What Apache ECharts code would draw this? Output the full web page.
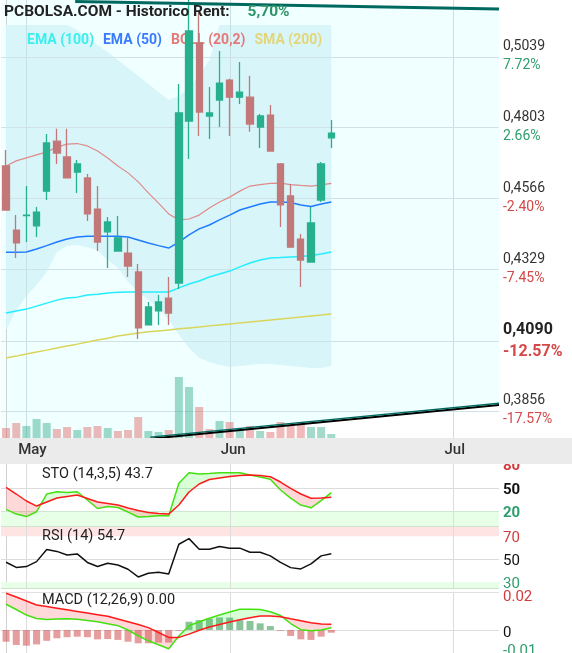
<!DOCTYPE html>
<html>
<head>
<meta charset="utf-8">
<script src="https://cdn.jsdelivr.net/npm/echarts@6/dist/echarts.min.js"></script>
<style>
html,body{margin:0;padding:0;background:#fff;}
#chart{width:572px;height:653px;}
</style>
</head>
<body>
<div id="chart"></div>
<script>
// ---------- categories ----------
const dates = ['2020-04-29','2020-04-30',
'2020-05-04','2020-05-05','2020-05-06','2020-05-07','2020-05-08',
'2020-05-11','2020-05-12','2020-05-13','2020-05-14','2020-05-15',
'2020-05-18','2020-05-19','2020-05-20','2020-05-21','2020-05-22',
'2020-05-25','2020-05-26','2020-05-27','2020-05-28','2020-05-29',
'2020-06-01','2020-06-02','2020-06-03','2020-06-04','2020-06-05',
'2020-06-08','2020-06-09','2020-06-10','2020-06-11','2020-06-12',
'2020-06-15','2020-06-16','2020-06-17','2020-06-18','2020-06-19',
'2020-06-22','2020-06-23','2020-06-24','2020-06-25','2020-06-26',
'2020-06-29','2020-06-30',
'2020-07-01','2020-07-02','2020-07-03','2020-07-06','2020-07-07'];
const monthStarts = [2, 22, 44];
const monthNames = ['May', 'Jun', 'Jul'];

// ---------- price ----------
const candleOpen  = [0.4674,0.4460,0.4508,0.4474,0.4590,0.4757,0.4704,0.4654,0.4634,0.4530,0.4454,0.4390,0.4383,0.4320,0.4143,0.4190,0.4233,0.4283,0.4824,0.5085,0.4841,0.4894,0.4961,0.4904,0.4904,0.4804,0.4844,0.4681,0.4574,0.4430,0.4353,0.4560,0.4768];
const candleClose = [0.4527,0.4417,0.4510,0.4520,0.4751,0.4717,0.4634,0.4681,0.4514,0.4420,0.4487,0.4434,0.4340,0.4133,0.4203,0.4220,0.4183,0.4851,0.5125,0.4854,0.4851,0.4951,0.4904,0.4921,0.4814,0.4841,0.4724,0.4544,0.4403,0.4360,0.4484,0.4681,0.4784];
const candleLow   = [0.4527,0.4367,0.4420,0.4437,0.4560,0.4681,0.4634,0.4584,0.4490,0.4390,0.4333,0.4390,0.4303,0.4096,0.4143,0.4143,0.4143,0.4263,0.4697,0.4774,0.4764,0.4804,0.4774,0.4881,0.4788,0.4734,0.4724,0.4470,0.4403,0.4270,0.4353,0.4554,0.4734];
const candleHigh  = [0.4727,0.4510,0.4607,0.4537,0.4781,0.4798,0.4798,0.4694,0.4647,0.4607,0.4504,0.4507,0.4434,0.4347,0.4220,0.4243,0.4303,0.4948,0.5240,0.5185,0.4938,0.5058,0.4965,0.5021,0.4975,0.4848,0.4878,0.4684,0.4614,0.4447,0.4537,0.4687,0.4828];

const volume    = [10,15,12,19,15,9,11,8,11,12,10,7,8,21,7,6,8,61,51,31,9,17,16,9,12,7,6,16,12,16,11,11,4];
const volumeDir = ['d','d','u','u','u','d','d','u','d','d','u','d','d','d','u','u','d','u','u','d','d','u','d','u','d','u','d','d','d','d','u','u','u'];

// ---------- overlays ----------
const bollUpper = [0.5145,0.5145,0.5145,0.5145,0.5145,0.5145,0.5145,0.5128,0.5101,0.5078,0.5055,0.5028,0.5001,0.4975,0.4948,0.4921,0.4894,0.4908,0.4934,0.4978,0.5028,0.5145,0.5145,0.5145,0.5145,0.5145,0.5145,0.5145,0.5145,0.5145,0.5145,0.5145,0.5145];
const bollMid   = [0.4674,0.4691,0.4701,0.4711,0.4721,0.4737,0.4747,0.4749,0.4741,0.4724,0.4701,0.4674,0.4651,0.4621,0.4584,0.4550,0.4514,0.4494,0.4497,0.4510,0.4534,0.4554,0.4570,0.4590,0.4607,0.4612,0.4616,0.4617,0.4612,0.4609,0.4607,0.4611,0.4616];
const bollLower = [0.4126,0.4193,0.4240,0.4277,0.4320,0.4387,0.4407,0.4410,0.4403,0.4393,0.4360,0.4333,0.4287,0.4253,0.4226,0.4200,0.4160,0.4110,0.4066,0.4033,0.4019,0.4009,0.4003,0.4006,0.4009,0.4013,0.4013,0.4009,0.4006,0.4003,0.3999,0.3999,0.4006];
const ema50  = [0.4386,0.4386,0.4387,0.4397,0.4408,0.4420,0.4430,0.4437,0.4439,0.4439,0.4439,0.4439,0.4437,0.4427,0.4417,0.4408,0.4400,0.4420,0.4444,0.4464,0.4477,0.4494,0.4510,0.4527,0.4537,0.4547,0.4554,0.4554,0.4552,0.4544,0.4539,0.4547,0.4554];
const ema100 = [0.4183,0.4190,0.4196,0.4206,0.4216,0.4226,0.4233,0.4236,0.4243,0.4246,0.4250,0.4252,0.4253,0.4253,0.4253,0.4253,0.4253,0.4267,0.4280,0.4290,0.4303,0.4313,0.4323,0.4337,0.4350,0.4360,0.4367,0.4368,0.4370,0.4372,0.4375,0.4380,0.4387];
const sma200 = [0.4033,0.4039,0.4046,0.4053,0.4059,0.4066,0.4073,0.4079,0.4086,0.4093,0.4099,0.4106,0.4111,0.4116,0.4120,0.4123,0.4126,0.4130,0.4133,0.4136,0.4140,0.4143,0.4146,0.4150,0.4153,0.4156,0.4160,0.4163,0.4166,0.4170,0.4173,0.4176,0.4180];

// trend lines: [categoryIndex, price]
const topTrend    = [[6.8, 0.5223], [48.5, 0.5198]];
const bottomTrend = [[14.2, 0.3763], [48.5, 0.3876]];

// ---------- price axis ticks ----------
const priceTicks      = [0.5039, 0.4803, 0.4566, 0.4329, 0.4090, 0.3856];
const priceTickLabels = ['0,5039', '0,4803', '0,4566', '0,4329', '0,4090', '0,3856'];
const pctLabels       = ['7.72%', '2.66%', '-2.40%', '-7.45%', '-12.57%', '-17.57%'];
const priceTickBold   = [false, false, false, false, true, false];

// ---------- indicators ----------
const stoK = [22.2,16.1,12.9,19.1,41.9,44.8,43.8,44.8,34.2,23.2,25.8,24.5,18.7,12.3,12.9,13.9,13.9,55.7,69.3,67.6,68.3,69.3,69.3,69.3,66.3,63.8,60.8,47.0,36.7,27.7,24.2,33.3,43.7];
const stoD = [50.5,41.9,32.9,26.4,31.6,36.7,38.7,40.6,36.1,31.6,29.7,27.7,23.9,20.6,18.1,16.8,16.1,27.7,44.5,54.8,60.6,62.5,64.4,65.7,66.3,65.7,64.2,57.3,49.2,41.9,36.4,36.7,37.6];
const rsi  = [47.4,42.9,43.6,47.9,58.5,56.8,53.7,54.6,47.2,43.7,46.5,45.0,41.3,34.6,37.8,38.7,37.2,63.0,67.9,58.7,58.7,61.0,59.6,59.6,56.1,56.1,52.9,47.2,42.7,41.6,45.9,52.9,54.7];
const macdLine   = [0.0143,0.0114,0.0083,0.0064,0.0059,0.0061,0.0062,0.0060,0.0053,0.0046,0.0035,0.0024,0.0000,-0.0032,-0.0060,-0.0082,-0.0104,-0.0033,0.0024,0.0046,0.0065,0.0083,0.0100,0.0115,0.0115,0.0114,0.0101,0.0081,0.0036,0.0002,-0.0004,0.0000,0.0013];
const macdSignal = [0.0204,0.0183,0.0161,0.0139,0.0130,0.0121,0.0112,0.0103,0.0094,0.0085,0.0076,0.0061,0.0046,0.0031,0.0013,-0.0014,-0.0041,-0.0041,-0.0023,-0.0001,0.0017,0.0031,0.0044,0.0057,0.0068,0.0078,0.0078,0.0074,0.0062,0.0051,0.0040,0.0033,0.0032];
const macdHist   = [-0.0065,-0.0083,-0.0087,-0.0080,-0.0060,-0.0046,-0.0040,-0.0037,-0.0040,-0.0052,-0.0050,-0.0055,-0.0065,-0.0074,-0.0074,-0.0070,-0.0070,-0.0004,0.0046,0.0055,0.0063,0.0070,0.0069,0.0055,0.0050,0.0037,0.0022,-0.0004,-0.0033,-0.0052,-0.0055,-0.0037,-0.0015];

// ---------- styles ----------
const C_UP = '#26b08e', C_DOWN = '#c27878';
const VOL_UP = 'rgba(38,166,130,0.42)', VOL_DOWN = 'rgba(222,88,88,0.42)';
const FILL_G = 'rgba(0,255,0,0.15)', FILL_R = 'rgba(255,0,0,0.15)';
const RED = '#d23c3c', GREEN = '#2e9e6e', PRED = '#d44848';
const FONT = 'Roboto';
const MONTH_PAD = [12, 7, 3];

const chart = echarts.init(document.getElementById('chart'), null, {renderer: 'canvas'});

function catAxis(gi, extra) {
  return Object.assign({type: 'category', gridIndex: gi, data: dates, boundaryGap: true,
    axisLine: {show: false}, axisTick: {show: false}, axisLabel: {show: false}, splitLine: {show: false}}, extra || {});
}
function valAxis(gi) {
  return {type: 'value', gridIndex: gi, min: -0.5, max: dates.length - 0.5, show: false};
}
function rightY(gi, min, max) {
  return {type: 'value', gridIndex: gi, min: min, max: max, position: 'right',
    axisLine: {show: true, lineStyle: {color: '#d0d0d0'}}, axisTick: {show: false},
    axisLabel: {show: false}, splitLine: {show: false}};
}
function betweenSeries(xi, yi, A, B, colUp, colDown, extra) {
  return Object.assign({
    type: 'custom', xAxisIndex: xi, yAxisIndex: yi, silent: true, z: 2, clip: true,
    data: A.slice(0, -1).map((_, i) => [i, 0]),
    renderItem: function (params, api) {
      const i = api.value(0);
      const a0 = A[i], a1 = A[i + 1], b0 = B[i], b1 = B[i + 1];
      const d0 = a0 - b0, d1 = a1 - b1;
      const c = (x, y) => api.coord([x, y]);
      const ch = [];
      if (d0 * d1 >= 0) {
        ch.push({type: 'polygon', shape: {points: [c(i, a0), c(i + 1, a1), c(i + 1, b1), c(i, b0)]},
          style: {fill: (d0 + d1) >= 0 ? colUp : colDown}});
      } else {
        const t = d0 / (d0 - d1);
        const xm = i + t, ym = a0 + t * (a1 - a0);
        ch.push({type: 'polygon', shape: {points: [c(i, a0), c(xm, ym), c(i, b0)]}, style: {fill: d0 > 0 ? colUp : colDown}});
        ch.push({type: 'polygon', shape: {points: [c(xm, ym), c(i + 1, a1), c(i + 1, b1)]}, style: {fill: d1 > 0 ? colUp : colDown}});
      }
      return {type: 'group', children: ch};
    }
  }, extra || {});
}
// gridlines + right-hand labels, positioned through the axis scales
// levels: [{v, line, texts:[{t, color, font, dy}]}]
function levelSeries(xi, yi, refY, levels, monthColor, z) {
  return {
    type: 'custom', xAxisIndex: xi, yAxisIndex: yi, silent: true, z: z || 1.5, clip: false,
    data: [[0, refY]],
    renderItem: function (params, api) {
      const cs = params.coordSys;
      const x0 = cs.x, x1 = cs.x + cs.width;
      const ch = [];
      monthStarts.forEach(m => {
        const x = Math.round(api.coord([m, refY])[0]) + 0.5;
        ch.push({type: 'line', shape: {x1: x, y1: cs.y, x2: x, y2: cs.y + cs.height}, style: {stroke: monthColor, lineWidth: 1}});
      });
      levels.forEach(L => {
        const yr = api.coord([0, L.v])[1];
        if (L.line) {
          const y = Math.round(yr) + 0.5;
          ch.push({type: 'line', shape: {x1: x0, y1: y, x2: x1, y2: y}, style: {stroke: L.line, lineWidth: 1}});
        }
        (L.texts || []).forEach(t => {
          ch.push({type: 'text', x: x1 + 4, y: yr + t.dy,
            style: {text: t.t, fill: t.color, font: t.font, align: 'left', verticalAlign: 'middle'}});
        });
      });
      return {type: 'group', children: ch};
    }
  };
}

const priceLevels = priceTicks.map((v, i) => {
  const neg = pctLabels[i].charAt(0) === '-';
  const b = priceTickBold[i];
  const font = b ? 'bold 16px Roboto' : '14px Roboto';
  return {v: v, line: '#cfe3e6', texts: [
    {t: priceTickLabels[i], color: b ? '#222' : '#333', font: font, dy: b ? -11 : -10},
    {t: pctLabels[i], color: neg ? PRED : GREEN, font: font, dy: b ? 11 : 9}
  ]};
});
const F15B = 'bold 15px Roboto', F15 = '15px Roboto';
const stoLevels = [
  {v: 80, line: null, texts: [{t: '80', color: RED, font: F15B, dy: 2}]},
  {v: 50, line: '#dcdcdc', texts: [{t: '50', color: '#111', font: F15B, dy: 2.5}]},
  {v: 20, line: '#d0e6d0', texts: [{t: '20', color: GREEN, font: F15B, dy: 2.5}]},
  {v: 0.4, line: '#cde3cd'}
];
const rsiLevels = [
  {v: 70, line: null, texts: [{t: '70', color: RED, font: F15, dy: 2.5}]},
  {v: 50, line: '#dcdcdc', texts: [{t: '50', color: '#111', font: F15, dy: 2.5}]},
  {v: 30, line: null, texts: [{t: '30', color: GREEN, font: F15, dy: 2}]},
  {v: 25.2, line: '#cde3cd'}
];
const macdLevels = [
  {v: 0.0210, line: '#e0e0e0'},
  {v: 0.02, line: null, texts: [{t: '0.02', color: RED, font: F15, dy: 3}]},
  {v: 0, line: '#dcdcdc', texts: [{t: '0', color: '#111', font: F15, dy: 3}]},
  {v: -0.01, line: null, texts: [{t: '-0.01', color: GREEN, font: F15, dy: 3}]}
];

const monthRich = {};
monthNames.forEach((n, i) => {
  monthRich['m' + i] = {fontSize: 15, fontWeight: 500, color: '#333', fontFamily: FONT, padding: [0, 0, 0, MONTH_PAD[i]]};
});

const option = {
  animation: false,
  backgroundColor: '#ffffff',
  textStyle: {fontFamily: FONT},
  title: [
    {left: 4, top: 4, padding: 0, z: 7,
      text: '{a|PCBOLSA.COM - Historico Rent:}{b|5,70%}',
      textStyle: {rich: {
        a: {fontSize: 15.5, fontWeight: 'bold', color: '#222', fontFamily: FONT},
        b: {fontSize: 15.5, fontWeight: 'bold', color: '#2e9466', fontFamily: FONT, padding: [0, 0, 0, 18]}
      }}},
    {left: 27, top: 31, padding: 0, z: 3,
      text: '{c|EMA (100)}  {bl|EMA (50)}  {s|BOLL (20,2)}  {y|SMA (200)}',
      textStyle: {rich: {
        c: {fontSize: 14, color: '#3ceeee', fontFamily: FONT},
        bl: {fontSize: 14, color: '#3b7bff', fontFamily: FONT},
        s: {fontSize: 14, color: '#e57878', fontFamily: FONT},
        y: {fontSize: 14, color: '#e3d67a', fontFamily: FONT}
      }}},
    {left: 42, top: 467, padding: 0, text: 'STO (14,3,5) 43.7', textStyle: {fontSize: 14.5, fontWeight: 'normal', color: '#222', fontFamily: FONT}},
    {left: 42, top: 529, padding: 0, text: 'RSI (14) 54.7', textStyle: {fontSize: 14.5, fontWeight: 'normal', color: '#222', fontFamily: FONT}},
    {left: 42, top: 593, padding: 0, text: 'MACD (12,26,9) 0.00', textStyle: {fontSize: 14.5, fontWeight: 'normal', color: '#222', fontFamily: FONT}}
  ],
  grid: [
    {left: 1, top: 0, width: 498, height: 438, show: true, backgroundColor: '#f0ffff', borderWidth: 0, outerBoundsMode: 'none'},
    {left: 1, top: 338, width: 498, height: 100, outerBoundsMode: 'none'},
    {left: 1, top: 448.8, width: 498, height: 77.8, outerBoundsMode: 'none'},
    {left: 1, top: 527, width: 498, height: 61, outerBoundsMode: 'none'},
    {left: 1, top: 591.7, width: 498, height: 61.3, outerBoundsMode: 'none'}
  ],
  xAxis: [
    catAxis(0, {z: 60, axisLabel: {show: true, interval: (idx) => monthStarts.indexOf(idx) >= 0,
      formatter: (v, idx) => { const k = monthStarts.indexOf(idx); return '{m' + k + '|' + monthNames[k] + '}'; },
      rich: monthRich, fontSize: 15, fontWeight: 500, color: '#333', margin: 5, fontFamily: FONT}}),
    valAxis(0),
    catAxis(1),
    catAxis(2), valAxis(2),
    catAxis(3), valAxis(3),
    catAxis(4), valAxis(4)
  ],
  yAxis: [
    rightY(0, 0.37655, 0.52284),
    {type: 'value', gridIndex: 1, min: 0, max: 100, show: false},
    rightY(2, 0, 100),
    rightY(3, 25, 78),
    rightY(4, -0.01278, 0.02128)
  ],
  graphic: [
    {type: 'rect', z: 50, shape: {x: 0, y: 438, width: 572, height: 26}, style: {fill: '#ebebeb'}}
  ],
  series: [
    // white zones outside trend channel
    {type: 'custom', xAxisIndex: 1, yAxisIndex: 0, z: 1, silent: true, clip: true, data: [[0, 0.45]],
      renderItem: function (params, api) {
        const cs = params.coordSys;
        const top = cs.y, bottom = cs.y + cs.height;
        const a0 = api.coord(topTrend[0]), a1 = api.coord(topTrend[1]);
        const b0 = api.coord(bottomTrend[0]), b1 = api.coord(bottomTrend[1]);
        return {type: 'group', children: [
          {type: 'polygon', shape: {points: [a0, a1, [a1[0], top], [a0[0], top]]}, style: {fill: '#ffffff'}},
          {type: 'polygon', shape: {points: [b0, b1, [b1[0], bottom + 2], [b0[0], bottom + 2]]}, style: {fill: '#ffffff'}}
        ]};
      }},
    // Bollinger band area
    {type: 'custom', xAxisIndex: 1, yAxisIndex: 0, z: 1, silent: true, clip: true, data: [[0, 0.45]],
      renderItem: function (params, api) {
        const pts = bollUpper.map((v, i) => api.coord([i, v]))
          .concat(bollLower.map((v, i) => api.coord([i, v])).reverse());
        return {type: 'polygon', shape: {points: pts}, style: {fill: '#d8f6fa'}};
      }},
    // price gridlines and labels
    levelSeries(1, 0, 0.45, priceLevels, '#c8e0e3', 1.5),
    {type: 'line', name: 'SMA (200)', xAxisIndex: 0, yAxisIndex: 0, z: 3, data: sma200, symbol: 'none', silent: true,
      lineStyle: {color: '#d9d55a', width: 1.5}},
    {type: 'line', name: 'EMA (100)', xAxisIndex: 0, yAxisIndex: 0, z: 3, data: ema100, symbol: 'none', silent: true,
      lineStyle: {color: '#22eeff', width: 1.5}},
    {type: 'line', name: 'EMA (50)', xAxisIndex: 0, yAxisIndex: 0, z: 3, data: ema50, symbol: 'none', silent: true,
      lineStyle: {color: '#1f7bff', width: 1.5}},
    {type: 'line', name: 'BOLL (20,2)', xAxisIndex: 0, yAxisIndex: 0, z: 3, data: bollMid, symbol: 'none', silent: true,
      lineStyle: {color: '#e08a8a', width: 1.2}},
    {type: 'candlestick', xAxisIndex: 0, yAxisIndex: 0, z: 4, barWidth: 6.8, clip: true,
      data: candleOpen.map((o, i) => [o, candleClose[i], candleLow[i], candleHigh[i]]),
      itemStyle: {color: C_UP, color0: C_DOWN, borderColor: C_UP, borderColor0: C_DOWN, borderWidth: 1.3}},
    // volume
    {type: 'bar', xAxisIndex: 2, yAxisIndex: 1, z: 3, barWidth: 8, silent: true,
      data: volume.map((v, i) => ({value: v, itemStyle: {color: volumeDir[i] === 'u' ? VOL_UP : VOL_DOWN}}))},
    // trend lines
    {type: 'custom', xAxisIndex: 1, yAxisIndex: 0, z: 6, silent: true, clip: true, data: [[0, 0.45]],
      renderItem: function (params, api) {
        const a0 = api.coord(topTrend[0]), a1 = api.coord(topTrend[1]);
        const b0 = api.coord(bottomTrend[0]), b1 = api.coord(bottomTrend[1]);
        return {type: 'group', children: [
          {type: 'line', shape: {x1: a0[0], y1: a0[1], x2: a1[0], y2: a1[1]}, style: {stroke: '#00695f', lineWidth: 3}},
          {type: 'line', shape: {x1: b0[0], y1: b0[1], x2: b1[0], y2: b1[1]}, style: {stroke: '#000000', lineWidth: 2}},
          {type: 'line', shape: {x1: b0[0], y1: b0[1] - 1.6, x2: b1[0], y2: b1[1] - 1.6}, style: {stroke: '#00695f', lineWidth: 1.4}}
        ]};
      }},

    // ---------- STO ----------
    levelSeries(4, 2, 50, stoLevels, '#dddddd', 1.5),
    betweenSeries(4, 2, stoK, stoD, FILL_G, FILL_R, {
      markArea: {silent: true, z: 1, itemStyle: {color: '#e6ffe6'}, data: [[{yAxis: 0}, {yAxis: 20}]]}
    }),
    {type: 'line', xAxisIndex: 3, yAxisIndex: 2, z: 3, data: stoK, symbol: 'none', silent: true, lineStyle: {color: '#44e011', width: 1.5}},
    {type: 'line', xAxisIndex: 3, yAxisIndex: 2, z: 3, data: stoD, symbol: 'none', silent: true, lineStyle: {color: '#ff1a1a', width: 1.5}},

    // ---------- RSI ----------
    levelSeries(6, 3, 50, rsiLevels, '#dddddd', 1.5),
    {type: 'line', xAxisIndex: 5, yAxisIndex: 3, z: 3, data: rsi, symbol: 'none', silent: true,
      lineStyle: {color: '#111', width: 1.5},
      markArea: {silent: true, z: 1, data: [
        [{yAxis: 70, itemStyle: {color: '#ffe4e4'}}, {yAxis: 78}],
        [{yAxis: 25, itemStyle: {color: '#e6ffe6'}}, {yAxis: 30}]
      ]}
    },

    // ---------- MACD ----------
    levelSeries(8, 4, 0, macdLevels, '#dddddd', 1.5),
    {type: 'bar', xAxisIndex: 7, yAxisIndex: 4, z: 2, barWidth: 7, silent: true,
      data: macdHist.map(v => ({value: v, itemStyle: {color: v >= 0 ? 'rgba(40,150,70,0.55)' : 'rgba(205,60,60,0.5)'}}))},
    betweenSeries(8, 4, macdLine, macdSignal, FILL_G, FILL_R),
    {type: 'line', xAxisIndex: 7, yAxisIndex: 4, z: 3, data: macdLine, symbol: 'none', silent: true, lineStyle: {color: '#44e011', width: 1.5}},
    {type: 'line', xAxisIndex: 7, yAxisIndex: 4, z: 3, data: macdSignal, symbol: 'none', silent: true, lineStyle: {color: '#ff1a1a', width: 1.5}}
  ]
};
chart.setOption(option);
</script>
</body>
</html>
